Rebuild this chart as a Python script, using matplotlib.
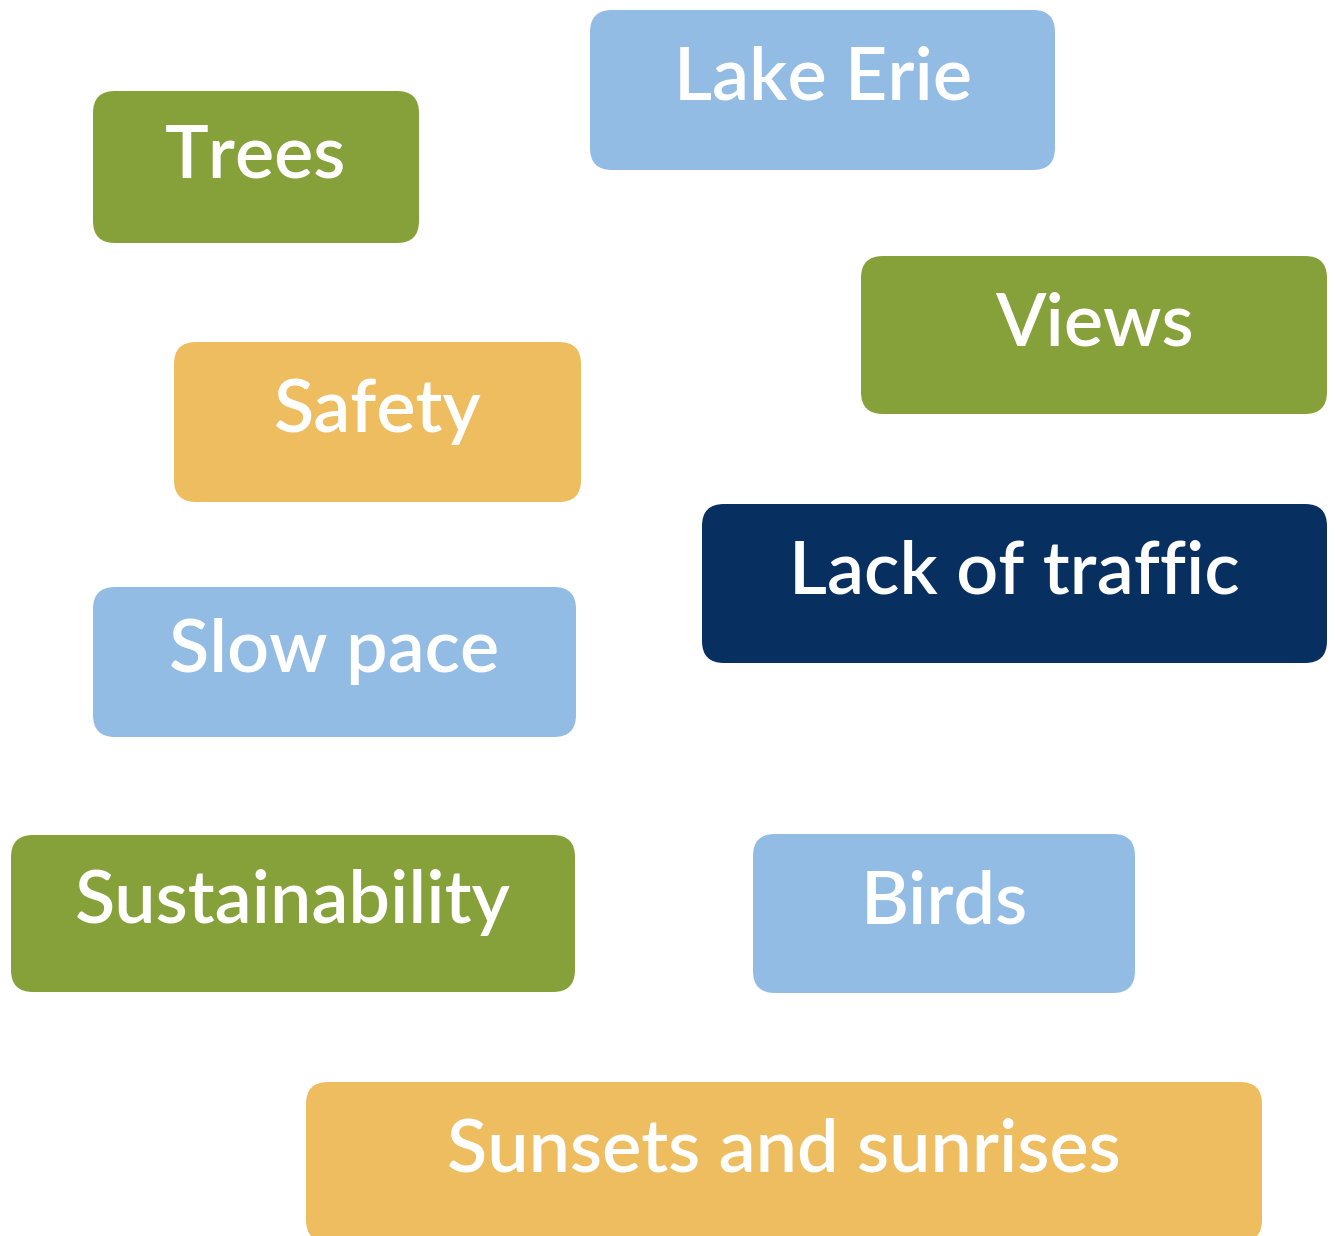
import matplotlib
matplotlib.use("Agg")
import matplotlib.pyplot as plt
from matplotlib.patches import FancyBboxPatch

# Data
labels = ["Lake Erie", "Trees", "Views", "Safety", "Lack of traffic",
          "Slow pace", "Sustainability", "Birds", "Sunsets and sunrises"]
groups = ["blue", "green", "green", "orange", "navy",
          "blue", "green", "blue", "orange"]

# Layout (pixel boxes: left, top, right, bottom)
lefts   = [590, 93, 861, 174, 702, 93, 11, 753, 306]
tops    = [10, 91, 256, 342, 504, 587, 835, 834, 1082]
rights  = [1055, 419, 1327, 581, 1327, 576, 575, 1135, 1262]
bottoms = [170, 243, 414, 502, 663, 737, 992, 993, 1242]

palette = {"blue": "#93BCE5", "green": "#86A13A", "orange": "#EDBD60", "navy": "#072F60"}

W, H = 1335, 1236
fig = plt.figure(figsize=(W / 100, H / 100), dpi=100)
ax = fig.add_axes([0, 0, 1, 1])
ax.set_xlim(0, W)
ax.set_ylim(H, 0)
ax.axis("off")

for lab, g, l, t, r, b in zip(labels, groups, lefts, tops, rights, bottoms):
    box = FancyBboxPatch((l, t), r - l, b - t,
                         boxstyle="round,pad=0,rounding_size=22",
                         facecolor=palette[g], edgecolor="none")
    ax.add_patch(box)
    cx = (l + r) / 2
    cy = (t + b) / 2
    ax.text(cx, cy + 10, lab, ha="center", va="baseline", color="white",
            fontsize=53, family=["Lato", "DejaVu Sans"], fontweight="semibold")

fig.savefig("out.png", dpi=100)
